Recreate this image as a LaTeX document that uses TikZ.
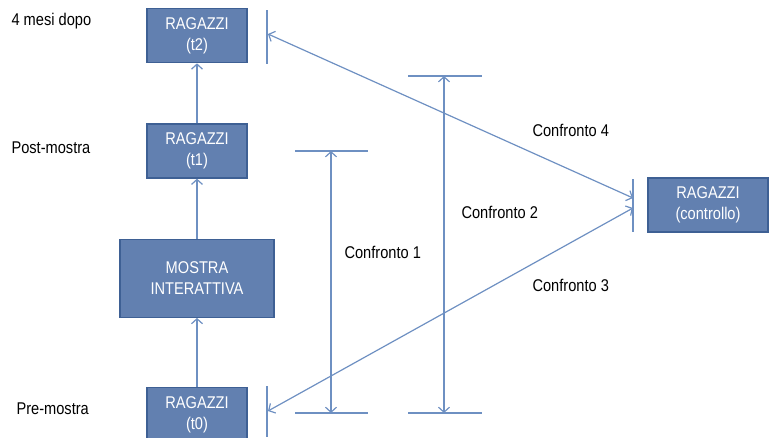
\documentclass[tikz,border=0pt]{standalone}
\usepackage{fontspec}
\setmainfont[FakeStretch=0.86]{Liberation Sans}
\usepackage{xcolor}
\usetikzlibrary{positioning,arrows.meta}
\definecolor{boxfill}{RGB}{98,128,176}
\definecolor{boxline}{RGB}{62,96,148}
\definecolor{linkline}{RGB}{110,144,194}

\begin{document}
\begin{tikzpicture}[x=1pt,y=-1pt,
  every text node part/.style={align=center},
  group/.style={draw=boxline, line width=1.3pt, fill=boxfill, text=white,
    minimum width=100pt, minimum height=54pt, inner sep=2pt,
    font=\fontsize{17}{20.5}\selectfont},
  phase/.style={anchor=west, font=\fontsize{17}{20.5}\selectfont},
  label/.style={anchor=west, font=\fontsize{17}{20.5}\selectfont},
  link/.style={draw=linkline, line width=1.2pt},
  tip/.style={link, {Straight Barb[length=5pt,width=11pt]}-{Straight Barb[length=5pt,width=11pt]}},
  up/.style={link, -{Straight Barb[length=5pt,width=11pt]}}]
  \useasboundingbox (0,0) rectangle (774,437);

  % left column
  \node[group]                                      (t1)      at (197,151) {RAGAZZI \\ (t1)};
  \node[group, node distance=60pt, above=of t1]     (t2)      {RAGAZZI \\ (t2)};
  \node[group, node distance=60pt, below=of t1, minimum width=154pt, minimum height=78pt]
                                                    (mostra)  {MOSTRA \\ INTERATTIVA};
  \node[group, node distance=69pt, below=of mostra] (t0)      {RAGAZZI \\ (t0)};
  \node[group, minimum width=120pt]                 (ctrl)    at (708,205) {RAGAZZI \\ (controllo)};

  \node[phase] (dopo) at (8,21)  {4 mesi dopo};
  \node[phase] (post) at (8,148) {Post-mostra};
  \node[phase] (pre)  at (13,409) {Pre-mostra};

  \path[up]
  (t0) edge (mostra)
  (mostra) edge (t1)
  (t1) edge (t2);

  % bars next to the boxes
  \draw[link] (267,10) -- (267,64);
  \draw[link] (267,386) -- (267,437);
  \draw[link] (633,179) -- (633,232);

  % confronto 1 and 2
  \coordinate (c1a) at (331,151);
  \coordinate (c1b) at (331,413);
  \coordinate (c2a) at (444,76);
  \coordinate (c2b) at (444,413);
  \draw[link] (295,151) -- (368,151);
  \draw[link] (295,413) -- (368,413);
  \draw[link] (408,76)  -- (482,76);
  \draw[link] (408,413) -- (482,413);
  \draw[tip] (c1a) -- (c1b);
  \draw[tip] (c2a) -- (c2b);

  % confronto 3 and 4
  \coordinate (e2) at (268,34);
  \coordinate (e0) at (268,411);
  \coordinate (f4) at (633,198);
  \coordinate (f3) at (633,208);
  \draw[tip] (e2) -- (f4);
  \draw[tip] (e0) -- (f3);

  \node[label] (conf1) at (341,252) {Confronto 1};
  \node[label] (conf2) at (458,212) {Confronto 2};
  \node[label] (conf4) at (529,130) {Confronto 4};
  \node[label] (conf3) at (529,285) {Confronto 3};
\end{tikzpicture}
\end{document}
